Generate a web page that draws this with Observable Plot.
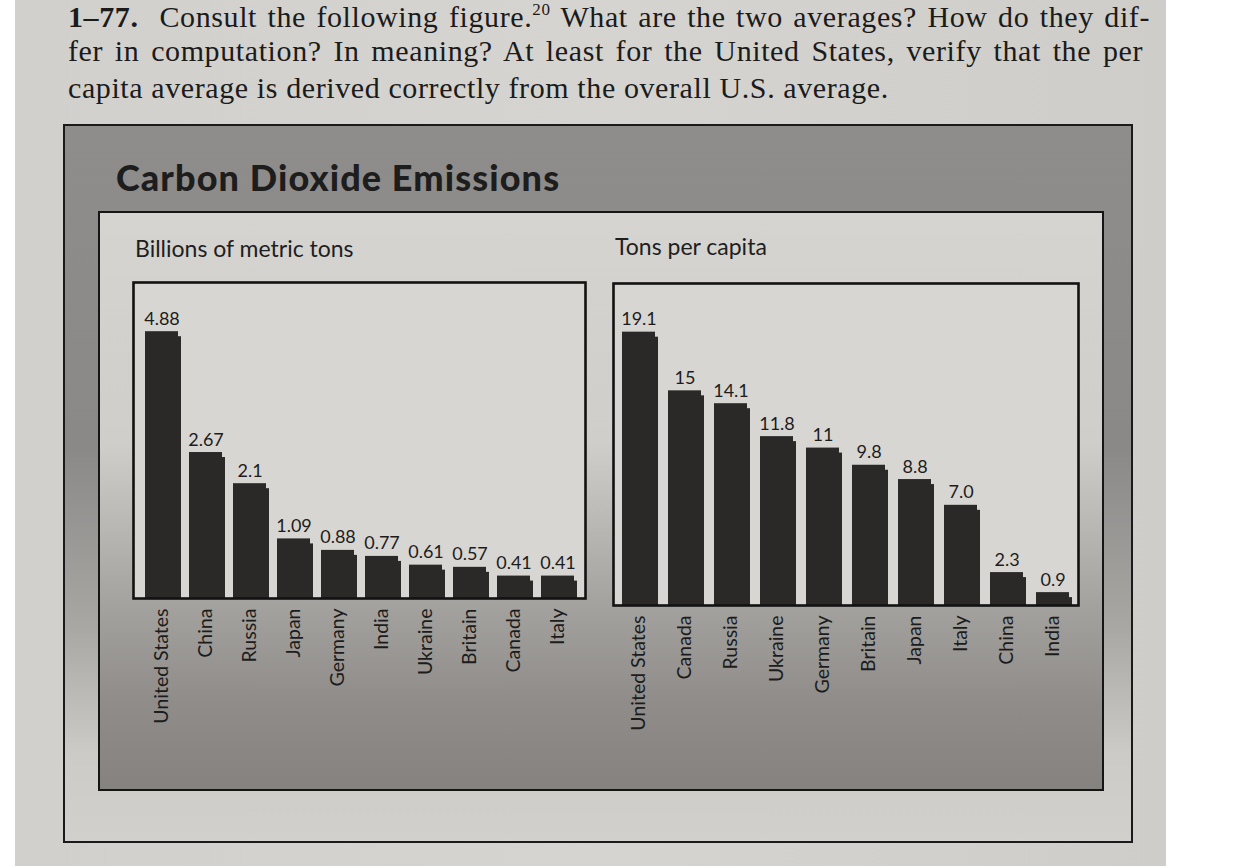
<!DOCTYPE html>
<html>
<head>
<meta charset="utf-8">
<script src="https://cdn.jsdelivr.net/npm/d3@7"></script>
<script src="https://cdn.jsdelivr.net/npm/@observablehq/plot@0.6"></script>
<style>
  html, body { margin: 0; padding: 0; }
  body { width: 1238px; height: 868px; background: #ffffff; position: relative; overflow: hidden; }
  #page { position: absolute; left: 15px; top: 0; width: 1151px; height: 866px;
          background: linear-gradient(to right, #d2d0cc, #d6d4d1 50%, #cfcdc9); }
  .q { position: absolute; left: 68px; font-family: "Liberation Serif", "DejaVu Serif", serif;
       font-size: 30px; color: #1b1b1b; white-space: nowrap; line-height: 1; letter-spacing: 0.6px; }
  .just { text-align: justify; text-align-last: justify; white-space: normal; }
  #outer { position: absolute; left: 63px; top: 124px; width: 1070px; height: 719px;
           border: 2px solid #1a1a1a; box-sizing: border-box;
           background: linear-gradient(to bottom, #8f8d8b 0%, #8b8987 45%, #a9a7a4 70%, #cdcbc7 88%, #d2d0cc 100%); }
  #inner { position: absolute; left: 98px; top: 211px; width: 1006px; height: 580px;
           border: 2.5px solid #151515; box-sizing: border-box;
           background: linear-gradient(to bottom, #d6d4d1 0%, #d0cecb 40%, #a4a29f 68%, #8f8c89 85%, #85827f 100%); }
  #title { position: absolute; left: 116px; top: 159px; font-family: Lato, "Open Sans", sans-serif;
           font-weight: 900; font-size: 36px; color: #1d1d1d; letter-spacing: 1.1px; line-height: 1; }
  .sub { position: absolute; font-family: Lato, "Open Sans", sans-serif; font-size: 23px; color: #1e1e1e; line-height: 1; }
  .chart { position: absolute; }
</style>
</head>
<body>
<div id="page"></div>
<div class="q just" style="top:2px; width:1082px;"><b>1–77.</b>&nbsp; Consult the following figure.<sup style="font-size:17px; line-height:0; vertical-align: 12px;">20</sup> What are the two averages? How do they dif-</div>
<div class="q just" style="top:36px; width:1075px;">fer in computation? In meaning? At least for the United States, verify that the per</div>
<div class="q" style="top:73px;">capita average is derived correctly from the overall U.S. average.</div>
<div id="outer"></div>
<div id="inner"></div>
<div id="title">Carbon Dioxide Emissions</div>
<div class="sub" style="left:135px; top:237px;">Billions of metric tons</div>
<div class="sub" style="left:615px; top:235px;">Tons per capita</div>
<div id="left" class="chart" style="left:131px; top:280px;"></div>
<div id="right" class="chart" style="left:611px; top:281px;"></div>
<script>
// ---- data ----
const countriesTotal = ["United States", "China", "Russia", "Japan", "Germany", "India", "Ukraine", "Britain", "Canada", "Italy"];
const totalValues = [4.88, 2.67, 2.1, 1.09, 0.88, 0.77, 0.61, 0.57, 0.41, 0.41];
const totalLabels = ["4.88", "2.67", "2.1", "1.09", "0.88", "0.77", "0.61", "0.57", "0.41", "0.41"];

const countriesPerCapita = ["United States", "Canada", "Russia", "Ukraine", "Germany", "Britain", "Japan", "Italy", "China", "India"];
const perCapitaValues = [19.1, 15, 14.1, 11.8, 11, 9.8, 8.8, 7.0, 2.3, 0.9];
const perCapitaLabels = ["19.1", "15", "14.1", "11.8", "11", "9.8", "8.8", "7.0", "2.3", "0.9"];

function makeChart(countries, values, labels, opts) {
  const data = countries.map((c, i) => ({country: c, value: values[i], label: labels[i]}));
  const barColor = "#2a2928";
  return Plot.plot({
    width: opts.width,
    height: opts.frameH + 4 + 180,
    marginTop: 2, marginLeft: 2, marginRight: 2, marginBottom: 182,
    style: {background: "transparent", fontFamily: "Lato, 'Open Sans', sans-serif", color: "#1c1c1c", overflow: "visible"},
    x: {domain: countries, paddingInner: opts.pi, paddingOuter: opts.po, label: null,
        tickSize: 0, tickPadding: 10, tickRotate: -90},
    y: {domain: [0, opts.ymax], axis: null},
    marks: [
      Plot.frame({fill: "#d8d6d2", stroke: "none"}),
      Plot.barY(data, {x: "country", y: "value", fill: barColor, dx: 3, insetTop: 5}),
      Plot.barY(data, {x: "country", y: "value", fill: barColor}),
      Plot.text(data, {x: "country", y: "value", text: "label", lineAnchor: "bottom", dy: -7,
                       fontSize: 18, fill: "#1c1c1c"}),
      Plot.frame({stroke: "#121212", strokeWidth: 2.6})
    ]
  });
}

document.getElementById("left").appendChild(
  makeChart(countriesTotal, totalValues, totalLabels, {width: 456, frameH: 316, ymax: 5.78, pi: 0.25, po: 0.2})
);
document.getElementById("right").appendChild(
  makeChart(countriesPerCapita, perCapitaValues, perCapitaLabels, {width: 469, frameH: 322, ymax: 22.5, pi: 0.28, po: 0.19})
);
// larger rotated country names
document.querySelectorAll("#left svg g[aria-label='x-axis tick label'], #right svg g[aria-label='x-axis tick label']").forEach(g => g.setAttribute("font-size", 19.5));
</script>
</body>
</html>
